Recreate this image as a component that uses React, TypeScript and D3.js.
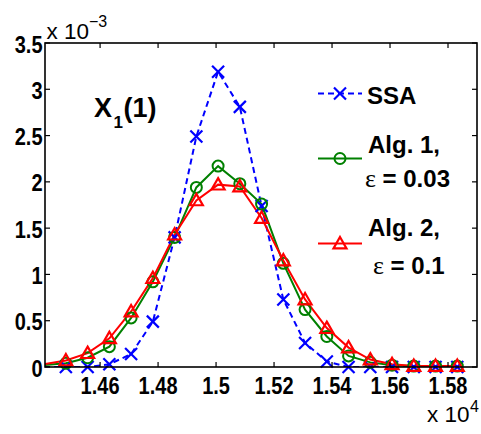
import React from "react";
import * as d3 from "d3";

const xValues = [14407, 14482, 14557, 14632, 14707, 14782, 14857, 14932, 15007, 15082, 15157, 15232, 15307, 15382, 15457, 15532, 15607, 15682, 15757, 15832];
const ssaValues = [0, 0.0, 0.0, 0.03, 0.14, 0.49, 1.40, 2.49, 3.19, 2.81, 1.74, 0.73, 0.26, 0.06, 0.0, 0, 0, 0, 0, 0];
const alg1Values = [0.02, 0.04, 0.10, 0.22, 0.53, 0.92, 1.40, 1.94, 2.17, 1.98, 1.76, 1.12, 0.62, 0.33, 0.12, 0.05, 0.02, 0.01, 0.01, 0.01];
const alg2Values = [0.03, 0.07, 0.15, 0.31, 0.60, 0.96, 1.43, 1.80, 1.97, 1.95, 1.61, 1.15, 0.73, 0.42, 0.21, 0.08, 0.03, 0.01, 0.01, 0.01];

const xTicks = [14600, 14800, 15000, 15200, 15400, 15600, 15800];
const xTickLabels = ["1.46", "1.48", "1.5", "1.52", "1.54", "1.56", "1.58"];
const yTicks = [0, 0.5, 1, 1.5, 2, 2.5, 3, 3.5];
const yTickLabels = ["0", "0.5", "1", "1.5", "2", "2.5", "3", "3.5"];

const W = 481, H = 434;
const L = 45, R = 477, T = 43, B = 367;
const SANS = "'Liberation Sans', Arial, Helvetica, sans-serif";
const SERIF = "'Liberation Serif', 'Times New Roman', serif";

const BLUE = "#0000ff", GREEN = "#008000", RED = "#ff0000";

function XMark({ x, y, c }: { x: number; y: number; c: string }) {
  const s = 6;
  return (
    <g stroke={c} strokeWidth={2.2}>
      <line x1={x - s} y1={y - s} x2={x + s} y2={y + s} />
      <line x1={x - s} y1={y + s} x2={x + s} y2={y - s} />
    </g>
  );
}
function OMark({ x, y, c }: { x: number; y: number; c: string }) {
  return <circle cx={x} cy={y} r={5.5} fill="none" stroke={c} strokeWidth={2} />;
}
function TMark({ x, y, c }: { x: number; y: number; c: string }) {
  const h = 6.5;
  return (
    <path
      d={`M${x},${y - h}L${x + h},${y + h * 0.75}L${x - h},${y + h * 0.75}Z`}
      fill="none"
      stroke={c}
      strokeWidth={2.2}
      strokeLinejoin="miter"
    />
  );
}

export default function App() {
  const x = d3.scaleLinear().domain([14410, 15900]).range([L, R]);
  const y = d3.scaleLinear().domain([0, 3.5]).range([B, T]);
  const line = d3
    .line<number>()
    .x((_, i) => x(xValues[i]))
    .y((d) => y(d));

  const inDomain = (i: number) => xValues[i] >= 14410 && xValues[i] <= 15900;

  const series = [
    { vals: ssaValues, c: BLUE, dash: "6,4", M: XMark },
    { vals: alg1Values, c: GREEN, dash: undefined, M: OMark },
    { vals: alg2Values, c: RED, dash: undefined, M: TMark },
  ];

  const tickLen = 5;
  const condensed = (px: number, py: number) => `translate(${px},${py}) scale(0.87,1)`;

  return (
    <svg width={W} height={H} style={{ position: "absolute", left: 0, top: 0, background: "#fff" }}>
      <defs>
        <clipPath id="plotclip">
          <rect x={L} y={T - 10} width={R - L} height={B - T + 10} />
        </clipPath>
      </defs>
      <rect x={0} y={0} width={W} height={H} fill="#fff" />

      {/* data */}
      <g clipPath="url(#plotclip)">
        {series.map((s, k) => (
          <path
            key={k}
            d={line(s.vals) || ""}
            fill="none"
            stroke={s.c}
            strokeWidth={2}
            strokeDasharray={s.dash}
          />
        ))}
      </g>
      {series.map((s, k) => (
        <g key={"m" + k}>
          {s.vals.map((v, i) =>
            inDomain(i) ? <s.M key={i} x={x(xValues[i])} y={y(v)} c={s.c} /> : null
          )}
        </g>
      ))}

      {/* axes box */}
      <rect x={L} y={T} width={R - L} height={B - T} fill="none" stroke="#000" strokeWidth={1.6} />
      {xTicks.map((t) => (
        <g key={"xt" + t} stroke="#000" strokeWidth={1.2}>
          <line x1={x(t)} x2={x(t)} y1={B} y2={B - tickLen} />
          <line x1={x(t)} x2={x(t)} y1={T} y2={T + tickLen} />
        </g>
      ))}
      {yTicks.map((t) => (
        <g key={"yt" + t} stroke="#000" strokeWidth={1.2}>
          <line x1={L} x2={L + tickLen} y1={y(t)} y2={y(t)} />
          <line x1={R} x2={R - tickLen} y1={y(t)} y2={y(t)} />
        </g>
      ))}
      {xTicks.map((t, i) => (
        <text
          key={"xl" + t}
          transform={condensed(x(t), 393.5)}
          textAnchor="middle"
          fontFamily={SANS}
          fontWeight="bold"
          fontSize={23}
        >
          {xTickLabels[i]}
        </text>
      ))}
      {yTicks.map((t, i) => (
        <text
          key={"yl" + t}
          transform={condensed(42.5, y(t) + 9.5)}
          textAnchor="end"
          fontFamily={SANS}
          fontWeight="bold"
          fontSize={23}
        >
          {yTickLabels[i]}
        </text>
      ))}

      {/* exponent labels */}
      <text x={46.5} y={38.5} fontFamily={SANS} fontSize={22.5}>
        x 10
      </text>
      <text x={89} y={27} fontFamily={SANS} fontSize={16}>
        −3
      </text>
      <text x={427} y={421.5} fontFamily={SANS} fontSize={22.5}>
        x 10
      </text>
      <text x={470} y={412} fontFamily={SANS} fontSize={16}>
        4
      </text>

      {/* panel label */}
      <text x={94} y={117} fontFamily={SANS} fontWeight="bold" fontSize={27}>
        X
      </text>
      <text x={113.5} y={128} fontFamily={SANS} fontWeight="bold" fontSize={17}>
        1
      </text>
      <text x={123.5} y={117} fontFamily={SANS} fontWeight="bold" fontSize={27}>
        (1)
      </text>

      {/* legend */}
      <line x1={318} x2={362} y1={93.5} y2={93.5} stroke={BLUE} strokeWidth={2} strokeDasharray="6,4" />
      <XMark x={340} y={93.5} c={BLUE} />
      <text x={367} y={103.5} fontFamily={SANS} fontWeight="bold" fontSize={24}>
        SSA
      </text>

      <line x1={318} x2={362} y1={158.5} y2={158.5} stroke={GREEN} strokeWidth={2} />
      <OMark x={340} y={158.5} c={GREEN} />
      <text x={368} y={153} fontFamily={SANS} fontWeight="bold" fontSize={24}>
        Alg. 1,
      </text>
      <text x={365} y={187} fontFamily={SANS} fontWeight="bold" fontSize={24}>
        <tspan fontFamily={SERIF} fontWeight="normal" fontSize={26}>ε</tspan> = 0.03
      </text>

      <line x1={318} x2={362} y1={243.5} y2={243.5} stroke={RED} strokeWidth={2} />
      <TMark x={340} y={243.5} c={RED} />
      <text x={368} y={236} fontFamily={SANS} fontWeight="bold" fontSize={24}>
        Alg. 2,
      </text>
      <text x={373} y={273.5} fontFamily={SANS} fontWeight="bold" fontSize={24}>
        <tspan fontFamily={SERIF} fontWeight="normal" fontSize={26}>ε</tspan> = 0.1
      </text>
    </svg>
  );
}
